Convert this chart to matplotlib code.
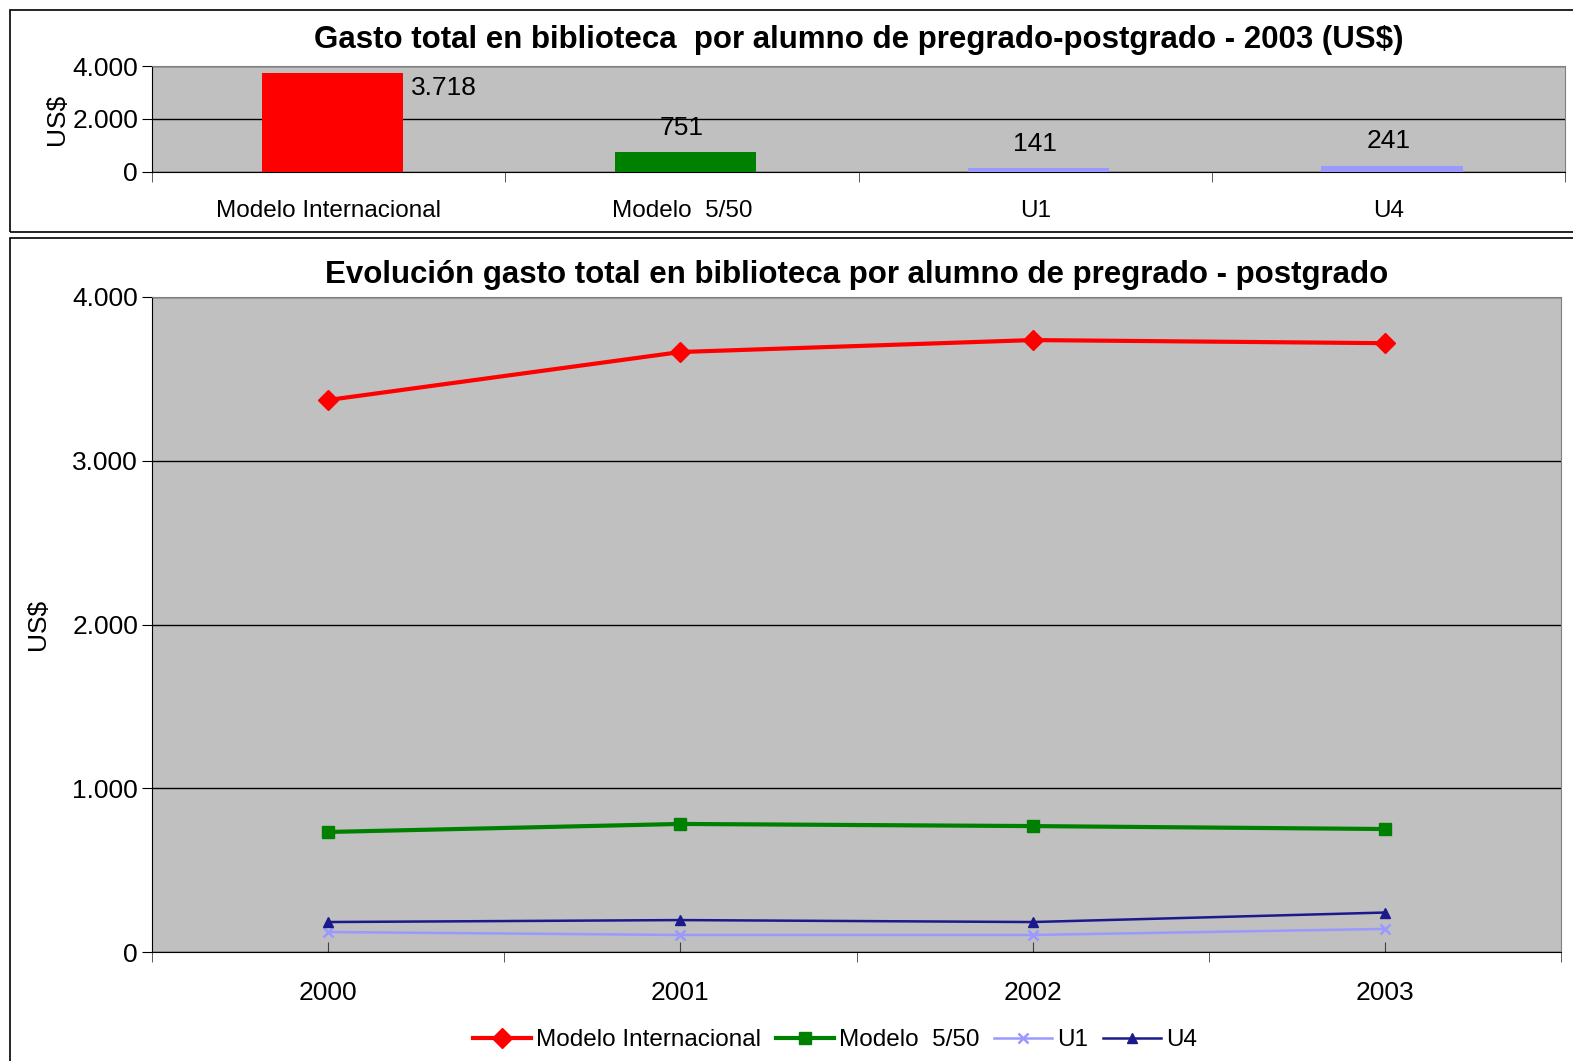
import matplotlib
matplotlib.use('agg')
import matplotlib.pyplot as plt
from matplotlib.patches import Rectangle
from matplotlib.ticker import FuncFormatter, FixedLocator

plt.rcParams['font.family'] = ['Liberation Sans', 'DejaVu Sans']

# datos 2003
categorias = ['Modelo Internacional', 'Modelo  5/50', 'U1', 'U4']
gasto_2003 = [3718, 751, 141, 241]
colores_barras = ['#FF0000', '#008000', '#9999FF', '#9999FF']

# evolucion
anios = ['2000', '2001', '2002', '2003']
modelo_int = [3371, 3664, 3737, 3718]
modelo_550 = [733, 782, 769, 751]
u1 = [122, 104, 104, 141]
u4 = [183, 195, 183, 241]

W, H = 1573, 1061
fig = plt.figure(figsize=(W / 100, H / 100), dpi=100)
fig.patch.set_facecolor('white')


def box(x0, y0, x1, y1):
    # pixel coords -> figure coords
    return [x0 / W, 1 - y1 / H, (x1 - x0) / W, (y1 - y0) / H]


def miles(v, pos=None):
    return '{:,.0f}'.format(v).replace(',', '.')


# marcos de los dos graficos
for (x0, y0, x1, y1) in [(10, 10, 1600, 232), (10, 238, 1600, 1100)]:
    b = box(x0, y0, x1, y1)
    fig.patches.append(Rectangle((b[0], b[1]), b[2], b[3], transform=fig.transFigure,
                                 fill=False, edgecolor='black', linewidth=1.2))

# ---- grafico de barras ----
ax1 = fig.add_axes(box(152, 66, 1565, 172))
ax1.set_facecolor('#C0C0C0')
x = range(len(categorias))
ax1.bar([i + 0.01 for i in x], gasto_2003, width=0.4, color=colores_barras, zorder=3)
ax1.set_xlim(-0.5, len(categorias) - 0.5)
ax1.set_ylim(0, 4000)
ax1.yaxis.set_major_locator(FixedLocator([0, 2000, 4000]))
ax1.yaxis.set_major_formatter(FuncFormatter(miles))
ax1.grid(axis='y', color='black', linewidth=1, zorder=1)
ax1.set_xticks(list(x))
ax1.set_xticklabels(categorias, fontsize=17.5)
ax1.xaxis.set_minor_locator(FixedLocator([i + 0.5 for i in range(-1, len(categorias))]))
ax1.tick_params(axis='x', which='major', length=0, pad=20)
ax1.tick_params(axis='x', which='minor', length=7, direction='out', color='#404040')
ax1.tick_params(axis='y', labelsize=19, length=7, direction='out', pad=3)
for s in ['top', 'right']:
    ax1.spines[s].set_color('#808080')
ax1.set_ylabel('US$', fontsize=19, labelpad=2)
for i, v in enumerate(gasto_2003):
    if v > 3000:
        ax1.annotate(miles(v), (i + 0.21, v), xytext=(6, -2), textcoords='offset points',
                     ha='left', va='top', fontsize=19)
    else:
        ax1.annotate(miles(v), (i, v), xytext=(0, 9), textcoords='offset points',
                     ha='center', va='bottom', fontsize=19)
ax1.set_title('Gasto total en biblioteca  por alumno de pregrado-postgrado - 2003 (US$)',
              fontsize=22.5, fontweight='bold', pad=13)

# ---- grafico de lineas ----
ax2 = fig.add_axes(box(152, 297, 1561, 952))
ax2.set_facecolor('#C0C0C0')
xs = range(len(anios))
ax2.plot(xs, modelo_int, color='#FF0000', linewidth=3, marker='D', markersize=10,
         label='Modelo Internacional', zorder=4)
ax2.plot(xs, modelo_550, color='#008000', linewidth=3, marker='s', markersize=8,
         label='Modelo  5/50', zorder=4)
ax2.plot(xs, u1, color='#9999FF', linewidth=1.8, marker='x', markersize=7,
         markeredgewidth=1.8, label='U1', zorder=4)
ax2.plot(xs, u4, color='#1A1A8C', linewidth=1.8, marker='^', markersize=7,
         label='U4', zorder=4)
ax2.set_xlim(-0.5, len(anios) - 0.5)
ax2.set_ylim(0, 4000)
ax2.yaxis.set_major_locator(FixedLocator([0, 1000, 2000, 3000, 4000]))
ax2.yaxis.set_major_formatter(FuncFormatter(miles))
ax2.grid(axis='y', color='black', linewidth=1, zorder=1)
ax2.set_xticks(list(xs))
ax2.set_xticklabels(anios, fontsize=19)
ax2.xaxis.set_minor_locator(FixedLocator([i + 0.5 for i in range(-1, len(anios))]))
ax2.tick_params(axis='x', which='major', length=7, direction='in', color='#404040', pad=21)
ax2.tick_params(axis='x', which='minor', length=7, direction='out', color='#404040')
ax2.tick_params(axis='y', labelsize=19, length=7, direction='out', pad=3)
for s in ['top', 'right']:
    ax2.spines[s].set_color('#808080')
ax2.set_ylabel('US$', fontsize=19, labelpad=16)
ax2.set_title('Evolución gasto total en biblioteca por alumno de pregrado - postgrado',
              fontsize=22.5, fontweight='bold', pad=10)
ax2.legend(loc='center', bbox_to_anchor=(835 / W, 1 - 1040 / H), bbox_transform=fig.transFigure,
           ncol=4, frameon=False, fontsize=17.5, handlelength=2.4, handletextpad=0.2,
           columnspacing=0.6)

fig.savefig('out.png', dpi=100)
